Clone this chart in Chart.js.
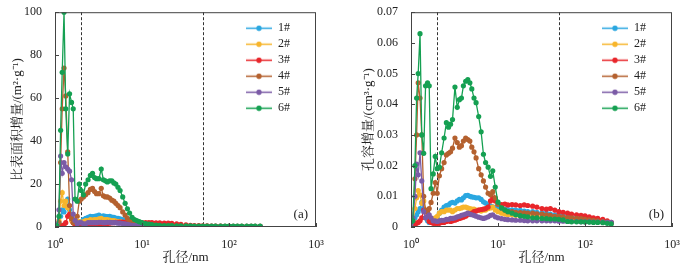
<!DOCTYPE html>
<html>
<head>
<meta charset="utf-8">
<script src="https://cdn.jsdelivr.net/npm/chart.js@4/dist/chart.umd.min.js"></script>
<style>
  html, body { margin: 0; padding: 0; background: #fff; }
  #wrap { position: relative; width: 688px; height: 275px; }
  .box { position: absolute; top: 0; height: 275px; }
  #boxA { left: 0; width: 340px; }
  #boxB { left: 340px; width: 348px; }
</style>
</head>
<body>
<div id="wrap">
  <div class="box" id="boxA"><canvas id="chartA" width="340" height="275"></canvas></div>
  <div class="box" id="boxB"><canvas id="chartB" width="348" height="275"></canvas></div>
</div>
<script>
// pore diameter, nm
const poreSize = [
  1.00, 1.05, 1.11, 1.16, 1.21, 1.27, 1.33, 1.40, 1.47, 1.55,
  1.62, 1.70, 1.80, 1.90, 2.00, 2.12, 2.25, 2.40, 2.55, 2.70,
  2.85, 3.0, 3.2, 3.4, 3.6, 3.8, 4.0, 4.25, 4.5, 4.75,
  5.0, 5.3, 5.6, 6.0, 6.4, 6.8, 7.2, 7.7, 8.2, 8.7,
  9.3, 10, 11, 12, 13, 14.5, 16, 18, 20, 22,
  25, 28, 32, 36, 40, 45, 50, 56, 63, 70,
  80, 90, 100, 112, 125, 140, 160, 180, 200, 228
];
const sampleNames = ['1#', '2#', '3#', '4#', '5#', '6#'];
const sampleColors = ['#2aa7e0', '#f7b52c', '#e8262b', '#b4612f', '#7b5ba6', '#15a052'];
const boundaries = [2, 50]; // micro / meso / macro limits
const xTickPowers = [0, 1, 2, 3];

// (a) specific surface area increment, m2/g
const area1 = [
  0.2, 0.5, 2, 5, 8, 7, 10, 13, 8, 4,
  2.5, 2, 1.5, 2, 2.5, 3.5, 4, 4.5, 5, 4.8,
  5, 5.2, 5.5, 5, 5.2, 5, 4.8, 5, 4.6, 4.5,
  4.2, 4, 3.8, 3.5, 3.2, 3, 2.7, 2.4, 2.1, 1.8,
  1.5, 1.2, 1, 0.8, 0.7, 0.6, 0.5, 0.5, 0.4, 0.4,
  0.3, 0.3, 0.3, 0.3, 0.2, 0.2, 0.2, 0.2, 0.2, 0.2,
  0.2, 0.2, 0.2, 0.2, 0.2, 0.2, 0.2, 0.2, 0.2, 0.2
];
const area2 = [
  0.2, 0.5, 3, 12, 16, 10, 12, 9, 5, 3,
  2, 2, 2.5, 2.5, 2, 2.5, 3, 3, 3.5, 3.2,
  3.5, 3.5, 3.8, 4, 3.5, 3.5, 3.5, 3.2, 3, 3,
  2.8, 2.5, 2.5, 2.2, 2, 1.8, 1.6, 1.4, 1.2, 1,
  0.8, 0.6, 0.5, 0.4, 0.4, 0.3, 0.3, 0.3, 0.2, 0.2,
  0.2, 0.2, 0.2, 0.2, 0.2, 0.2, 0.2, 0.2, 0.2, 0.2,
  0.2, 0.2, 0.2, 0.2, 0.2, 0.2, 0.2, 0.2, 0.2, 0.2
];
const area3 = [
  0.3, 0.3, 0.3, 0.5, 0.5, 1, 2, 5, 6, 4,
  2, 1, 0.5, 0.5, 0.3, 0.3, 0.5, 0.5, 0.4, 0.6,
  0.8, 0.8, 1, 1.2, 1.3, 1.5, 1.6, 1.8, 2, 2,
  2.2, 2.2, 2.3, 2.3, 2.2, 2.2, 2.3, 2.4, 2.2, 2.1,
  2, 2, 2, 2, 2, 1.9, 1.9, 1.8, 1.8, 1.7,
  1.5, 1.2, 1, 0.8, 0.7, 0.6, 0.5, 0.5, 0.4, 0.4,
  0.4, 0.3, 0.3, 0.3, 0.3, 0.3, 0.3, 0.3, 0.3, 0.3
];
const area4 = [
  0.3, 0.3, 2, 30, 55, 74, 61, 35, 10, 4,
  2, 3, 5, 12, 13, 14, 15, 16, 17.5, 18,
  16.5, 15.5, 15.5, 18, 14.5, 14, 14, 13.5, 12.5, 12,
  11, 10, 9, 7, 5.5, 4, 3, 2.5, 2, 1.6,
  1.3, 1, 0.8, 0.7, 0.6, 0.5, 0.5, 0.4, 0.4, 0.4,
  0.3, 0.3, 0.3, 0.3, 0.3, 0.3, 0.3, 0.3, 0.3, 0.3,
  0.3, 0.3, 0.3, 0.3, 0.3, 0.3, 0.3, 0.3, 0.3, 0.3
];
const area5 = [
  0.5, 1, 8, 33, 25, 30, 28, 27, 26, 22,
  6, 3, 1.5, 2, 2, 1.5, 1.5, 2, 2, 2,
  2, 2, 2.2, 2.2, 2, 2, 2.2, 2.2, 2, 2,
  2, 1.8, 1.8, 1.6, 1.5, 1.2, 1, 0.8, 0.7, 0.6,
  0.5, 0.4, 0.3, 0.3, 0.2, 0.2, 0.2, 0.2, 0.2, 0.2,
  0.2, 0.2, 0.2, 0.2, 0.2, 0.2, 0.2, 0.2, 0.2, 0.2,
  0.2, 0.2, 0.2, 0.2, 0.2, 0.2, 0.2, 0.2, 0.2, 0.2
];
const area6 = [
  0.5, 0.5, 5, 45, 72, 100, 55, 34, 62, 58,
  55, 13, 12, 20, 17, 15, 20, 22, 24, 25,
  23, 22.5, 22.5, 27, 22, 21.5, 21, 21.5, 21.5, 20.5,
  20, 18.5, 17, 14, 11, 8.5, 6.5, 4.5, 3.5, 3,
  2.5, 2, 1.6, 1.3, 1.1, 0.9, 0.8, 0.7, 0.6, 0.6,
  0.5, 0.5, 0.5, 0.5, 0.4, 0.4, 0.4, 0.4, 0.4, 0.4,
  0.4, 0.4, 0.4, 0.4, 0.4, 0.4, 0.4, 0.4, 0.4, 0.4
];

// (b) pore volume increment, cm3/g (ends at 200 nm)
const vol1 = [
  0.001, 0.0015, 0.003, 0.004, 0.005, 0.006, 0.008, 0.006, 0.003, 0.002,
  0.0015, 0.0015, 0.002, 0.002, 0.003, 0.0045, 0.0055, 0.0065, 0.007, 0.0072,
  0.0078, 0.008, 0.0078, 0.0085, 0.009, 0.0088, 0.0095, 0.0102, 0.0103, 0.01,
  0.0098, 0.0097, 0.0095, 0.0095, 0.009, 0.0082, 0.0078, 0.0072, 0.0068, 0.0066,
  0.0064, 0.0062, 0.006, 0.0058, 0.0057, 0.0056, 0.0055, 0.0054, 0.0052, 0.005,
  0.005, 0.0048, 0.0046, 0.0045, 0.0042, 0.004, 0.0038, 0.0036, 0.0034, 0.0032,
  0.003, 0.0028, 0.0026, 0.0024, 0.0022, 0.002, 0.0018, 0.0016, 0.0014
];
const vol2 = [
  0.001, 0.002, 0.006, 0.0095, 0.0119, 0.0105, 0.0077, 0.0085, 0.005, 0.003,
  0.002, 0.002, 0.002, 0.003, 0.0035, 0.0045, 0.005, 0.005, 0.0055, 0.0055,
  0.0055, 0.005, 0.0055, 0.006, 0.006, 0.0062, 0.0065, 0.0065, 0.0062, 0.006,
  0.0058, 0.0058, 0.0055, 0.0055, 0.0052, 0.0055, 0.0055, 0.006, 0.0062, 0.0065,
  0.0055, 0.005, 0.0045, 0.0042, 0.004, 0.004, 0.0038, 0.0037, 0.0036, 0.0035,
  0.0035, 0.0034, 0.0033, 0.0032, 0.0031, 0.003, 0.003, 0.0029, 0.0028, 0.0027,
  0.0026, 0.0025, 0.0023, 0.0022, 0.002, 0.0018, 0.0016, 0.0015, 0.0012
];
const vol3 = [
  0.001, 0.001, 0.001, 0.0012, 0.0015, 0.002, 0.003, 0.0055, 0.005, 0.003,
  0.0018, 0.0015, 0.0012, 0.0012, 0.0012, 0.0012, 0.0015, 0.0015, 0.0018, 0.002,
  0.0018, 0.002, 0.0022, 0.0025, 0.0028, 0.003, 0.0032, 0.0035, 0.004, 0.0042,
  0.0045, 0.005, 0.0052, 0.0055, 0.0057, 0.0058, 0.006, 0.0065, 0.0085, 0.0095,
  0.0085, 0.0075, 0.0073, 0.0075, 0.0072, 0.0073, 0.0072, 0.007, 0.0072, 0.007,
  0.0068, 0.0065, 0.006, 0.0058, 0.006, 0.0055, 0.005, 0.0048, 0.0045, 0.0042,
  0.004, 0.0038, 0.0036, 0.0033, 0.003, 0.0028, 0.0025, 0.002, 0.0015
];
const vol4 = [
  0.001, 0.002, 0.0157, 0.03, 0.047, 0.042, 0.03, 0.01, 0.0055, 0.005,
  0.006, 0.008, 0.011, 0.0145, 0.011, 0.0167, 0.019, 0.021, 0.0235, 0.024,
  0.0245, 0.0257, 0.029, 0.0275, 0.026, 0.0265, 0.028, 0.029, 0.0285, 0.028,
  0.026, 0.0245, 0.0225, 0.019, 0.017, 0.015, 0.013, 0.011, 0.0105, 0.0115,
  0.0095, 0.0075, 0.0062, 0.0055, 0.005, 0.005, 0.0048, 0.0047, 0.0046, 0.0045,
  0.0045, 0.0043, 0.0042, 0.004, 0.0038, 0.0035, 0.0035, 0.0032, 0.003, 0.003,
  0.0028, 0.0027, 0.0025, 0.0023, 0.0022, 0.002, 0.0018, 0.0016, 0.0014
];
const vol5 = [
  0.001, 0.003, 0.01, 0.0205, 0.017, 0.0242, 0.015, 0.005, 0.003, 0.0035,
  0.004, 0.003, 0.002, 0.002, 0.0018, 0.002, 0.0022, 0.0022, 0.0025, 0.0025,
  0.0028, 0.0028, 0.003, 0.0033, 0.0035, 0.0038, 0.004, 0.0042, 0.0045, 0.0042,
  0.004, 0.0038, 0.0035, 0.0032, 0.003, 0.0028, 0.003, 0.0033, 0.0038, 0.004,
  0.0033, 0.003, 0.0027, 0.0025, 0.0024, 0.0023, 0.0022, 0.0022, 0.0021, 0.002,
  0.002, 0.002, 0.002, 0.002, 0.002, 0.002, 0.0019, 0.0019, 0.0018, 0.0018,
  0.0018, 0.0017, 0.0017, 0.0017, 0.0016, 0.0016, 0.0016, 0.0015, 0.0015
];
const vol6 = [
  0.0017, 0.002, 0.02, 0.042, 0.05, 0.063, 0.03, 0.024, 0.046, 0.047,
  0.046, 0.0125, 0.0173, 0.023, 0.019, 0.0195, 0.0242, 0.029, 0.034, 0.0325,
  0.0335, 0.035, 0.0456, 0.039, 0.0415, 0.042, 0.046, 0.0475, 0.048, 0.047,
  0.045, 0.042, 0.0405, 0.036, 0.031, 0.0237, 0.021, 0.0195, 0.0165, 0.0183,
  0.013, 0.0081, 0.0062, 0.0055, 0.005, 0.0045, 0.004, 0.0037, 0.0035, 0.0033,
  0.003, 0.003, 0.0028, 0.0027, 0.0026, 0.0026, 0.0025, 0.0023, 0.0018, 0.0017,
  0.0017, 0.0017, 0.0016, 0.0016, 0.0015, 0.0015, 0.0014, 0.0012, 0.001
];

const serif = "'Liberation Serif', 'Noto Serif CJK SC', 'Noto Sans CJK SC', serif";
const ink = '#222';
const sup = ['\u2070', '\u00b9', '\u00b2', '\u00b3'];

// little line + dot icon for the legend
function legendIcon(color) {
  const c = document.createElement('canvas');
  c.width = 26; c.height = 7;
  const g = c.getContext('2d');
  g.strokeStyle = color; g.lineWidth = 1.5;
  g.beginPath(); g.moveTo(0, 3.5); g.lineTo(26, 3.5); g.stroke();
  g.fillStyle = color;
  g.beginPath(); g.arc(13, 3.5, 2.7, 0, Math.PI * 2); g.fill();
  return c;
}
const icons = sampleColors.map(legendIcon);

// frame, dashed boundaries, inward ticks, panel tag
const panelDecor = {
  id: 'panelDecor',
  afterLayout(chart) {
    const a = chart.chartArea;
    chart.legend.left = a.right - 74;
    chart.legend.top = a.top + 6;
  },
  beforeDatasetsDraw(chart) {
    const {ctx, chartArea: a, scales: {x}} = chart;
    ctx.save();
    ctx.strokeStyle = '#333';
    ctx.lineWidth = 1;
    ctx.setLineDash([3, 2]);
    boundaries.forEach(b => {
      const px = Math.round(x.getPixelForValue(b)) + 0.5;
      ctx.beginPath(); ctx.moveTo(px, a.top); ctx.lineTo(px, a.bottom); ctx.stroke();
    });
    ctx.restore();
  },
  afterDatasetsDraw(chart, args, opts) {
    const {ctx, chartArea: a, scales: {x, y}} = chart;
    ctx.save();
    ctx.strokeStyle = '#444';
    ctx.lineWidth = 1;
    ctx.strokeRect(a.left + 0.5, a.top + 0.5, a.width - 1, a.height - 1);
    y.ticks.forEach(t => {
      const py = Math.round(y.getPixelForValue(t.value)) + 0.5;
      ctx.beginPath(); ctx.moveTo(a.left, py); ctx.lineTo(a.left + 4, py); ctx.stroke();
    });
    xTickPowers.forEach(p => {
      const px = Math.round(x.getPixelForValue(Math.pow(10, p))) + 0.5;
      ctx.beginPath(); ctx.moveTo(px, a.bottom); ctx.lineTo(px, a.bottom - 4); ctx.stroke();
    });
    ctx.fillStyle = ink;
    ctx.font = '13px ' + serif;
    ctx.textAlign = 'right';
    ctx.textBaseline = 'middle';
    ctx.fillText(opts.tag, a.right - 8, a.bottom - 12);
    ctx.restore();
  }
};

function makePanel(id, series, cfg) {
  const datasets = series.map((vals, i) => ({
    label: sampleNames[i],
    data: vals.map((v, k) => ({x: poreSize[k], y: v})),
    borderColor: sampleColors[i],
    backgroundColor: sampleColors[i],
    borderWidth: 1.3,
    pointRadius: 2.6,
    pointBorderWidth: 0,
    pointHoverRadius: 2.6,
    order: series.length - i
  }));

  return new Chart(document.getElementById(id), {
    type: 'line',
    data: {datasets},
    options: {
      responsive: false,
      animation: false,
      events: [],
      layout: {padding: {top: 9, right: cfg.padRight, left: 0, bottom: 0}},
      scales: {
        x: {
          type: 'logarithmic',
          min: 1,
          max: 1000,
          grid: {display: false},
          border: {display: false},
          ticks: {
            font: {family: serif, size: 12},
            color: ink,
            padding: 3,
            autoSkip: false,
            maxRotation: 0,
            callback: v => {
              const p = Math.log10(v);
              if (Math.abs(p - Math.round(p)) > 1e-9) return null;
              return '10' + sup[Math.round(p)];
            }
          },
          title: {
            display: true,
            text: '孔径/nm',
            font: {family: serif, size: 13},
            color: ink,
            padding: {top: 0, bottom: 10}
          },
          afterFit: s => { s.height = 48; }
        },
        y: {
          min: 0,
          max: cfg.yMax,
          grid: {display: false},
          border: {display: false},
          ticks: {
            stepSize: cfg.yStep,
            font: {family: serif, size: 12},
            color: ink,
            padding: 5
          },
          title: {
            display: true,
            text: cfg.yTitle,
            font: {family: serif, size: 13},
            color: ink,
            padding: {top: cfg.titlePad, bottom: 0}
          },
          afterFit: s => { s.width = cfg.axisWidth; }
        }
      },
      plugins: {
        legend: {
          position: 'chartArea',
          align: 'start',
          labels: {
            usePointStyle: true,
            pointStyleWidth: 26,
            padding: 4,
            font: {family: serif, size: 12},
            color: ink,
            generateLabels: chart => chart.data.datasets.map((ds, i) => ({
              text: ds.label,
              pointStyle: icons[i],
              fillStyle: ds.borderColor,
              strokeStyle: ds.borderColor,
              lineWidth: 0,
              fontColor: ink,
              hidden: false,
              datasetIndex: i
            }))
          }
        },
        tooltip: {enabled: false},
        panelDecor: {tag: cfg.tag}
      }
    },
    plugins: [panelDecor]
  });
}

makePanel('chartA', [area1, area2, area3, area4, area5, area6], {
  yMax: 100, yStep: 20, yTitle: '比表面积增量/(m²·g⁻¹)',
  axisWidth: 55, padRight: 24, titlePad: 10, tag: '(a)'
});
makePanel('chartB', [vol1, vol2, vol3, vol4, vol5, vol6], {
  yMax: 0.07, yStep: 0.01, yTitle: '孔容增量/(cm³·g⁻¹)',
  axisWidth: 71, padRight: 16, titlePad: 21, tag: '(b)'
});
</script>
</body>
</html>
